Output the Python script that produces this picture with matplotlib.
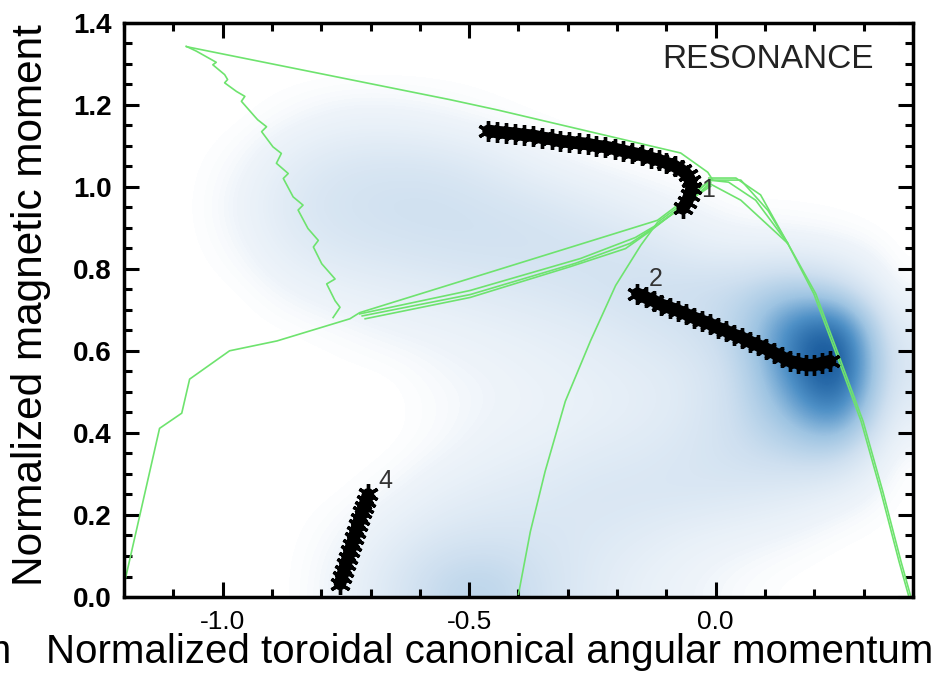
import numpy as np
import matplotlib
matplotlib.use("Agg")
import matplotlib.pyplot as plt
from matplotlib.colors import LinearSegmentedColormap

# particle density on a 0.1 x 0.1 grid (rows from top, mu = 1.35 ... 0.05)
dens_pz = np.arange(-1.15, 0.40, 0.1)
dens_mu = np.arange(1.35, 0.0, -0.1)
density = np.array([
    [0, 0, 0, 0, 0, 0, 0, 0, 0, 0, 0, 0, 0, 0, 0, 0],
    [0, 0, 0, 0, 0, 0, 0, 0, 0, 0, 0, 0, 0, 0, 0, 0],
    [0, 0, 0, .02, .05, .05, .03, .01, 0, 0, 0, 0, 0, 0, 0, 0],
    [0, 0, .02, .10, .15, .16, .15, .10, .04, .01, 0, 0, 0, 0, 0, 0],
    [0, 0, .04, .14, .18, .20, .20, .18, .15, .10, .05, .02, 0, 0, 0, 0],
    [0, 0, .02, .10, .14, .16, .18, .19, .19, .18, .15, .08, .05, .04, .02, 0],
    [0, 0, 0, .03, .06, .08, .10, .12, .14, .17, .20, .22, .24, .35, .25, 0],
    [0, 0, 0, 0, .01, .03, .04, .06, .08, .10, .14, .18, .28, .70, .90, .08],
    [0, 0, 0, 0, 0, 0, .02, .03, .05, .07, .09, .12, .22, .65, 1.0, .12],
    [0, 0, 0, 0, 0, 0, .01, .03, .04, .06, .08, .12, .22, .45, .75, .06],
    [0, 0, 0, 0, 0, 0, .02, .05, .07, .10, .12, .15, .20, .25, .28, 0],
    [0, 0, 0, 0, 0, .02, .07, .10, .12, .15, .15, .15, .13, .10, .05, 0],
    [0, 0, 0, 0, .02, .08, .14, .16, .15, .13, .10, .06, .04, .02, 0, 0],
    [0, 0, 0, 0, .04, .14, .26, .28, .18, .11, .06, .03, .01, 0, 0, 0],
])

# loss / trapped-passing boundaries
top_pz = [-1.073, -0.539, -0.443, -0.071, -0.016, -0.006]
top_mu = [1.341, 1.212, 1.187, 1.082, 1.035, 1.016]

jag_pz = [-1.074, -1.053, -1.013, -1.020, -0.996, -0.990, -0.996, -0.972, -0.955,
          -0.962, -0.935, -0.929, -0.911, -0.921, -0.898, -0.881, -0.891, -0.867,
          -0.877, -0.857, -0.837, -0.847, -0.827, -0.806, -0.816, -0.799, -0.772,
          -0.789, -0.772, -0.762, -0.776]
jag_mu = [1.342, 1.330, 1.303, 1.297, 1.273, 1.261, 1.253, 1.232, 1.220,
          1.208, 1.171, 1.163, 1.146, 1.134, 1.097, 1.081, 1.057, 1.032,
          1.020, 0.975, 0.955, 0.943, 0.898, 0.869, 0.853, 0.812, 0.775,
          0.763, 0.722, 0.706, 0.681]

low_pz = [-1.200, -1.128, -1.083, -1.067, -0.986, -0.890, -0.742, -0.722, -0.118, -0.010]
low_mu = [0.030, 0.411, 0.448, 0.531, 0.600, 0.624, 0.678, 0.693, 0.918, 1.016]

strand_b_pz = [-0.722, -0.498, -0.274, -0.163, -0.118, -0.061, -0.010]
strand_b_mu = [0.690, 0.747, 0.825, 0.876, 0.908, 0.955, 1.011]
strand_c_pz = [-0.717, -0.498, -0.285, -0.173, -0.128, -0.051, -0.010]
strand_c_mu = [0.685, 0.737, 0.813, 0.862, 0.898, 0.967, 1.006]
strand_d_pz = [-0.711, -0.498, -0.295, -0.183, -0.136, -0.047, -0.010]
strand_d_mu = [0.678, 0.730, 0.805, 0.849, 0.889, 0.972, 1.001]

mid_pz = [-0.400, -0.376, -0.346, -0.305, -0.254, -0.203, -0.152, -0.118, -0.071, -0.010]
mid_mu = [0.007, 0.159, 0.306, 0.477, 0.624, 0.759, 0.857, 0.913, 0.955, 1.016]

right_pz = [-0.010, 0.051, 0.106, 0.146, 0.199, 0.240, 0.295, 0.335, 0.372, 0.392]
right_mu = [1.016, 1.016, 0.942, 0.862, 0.739, 0.607, 0.428, 0.257, 0.086, 0.000]
right2_pz = [-0.014, 0.041, 0.091, 0.146, 0.203, 0.244, 0.299, 0.339, 0.376, 0.396]
right2_mu = [1.021, 1.021, 0.980, 0.862, 0.739, 0.607, 0.428, 0.257, 0.086, 0.000]
fan_pz = [-0.014, 0.026, 0.081, 0.146]
fan_mu = [1.016, 1.011, 0.967, 0.862]
fan2_pz = [-0.010, 0.051, 0.146]
fan2_mu = [1.006, 0.967, 0.862]

# resonant orbits
orb1_pz = [-0.461, -0.443, -0.425, -0.407, -0.388, -0.370, -0.352, -0.333, -0.315,
           -0.297, -0.278, -0.260, -0.242, -0.224, -0.205, -0.187, -0.169, -0.150,
           -0.132, -0.116, -0.100, -0.083, -0.069, -0.057, -0.051, -0.049, -0.053,
           -0.059, -0.067]
orb1_mu = [1.136, 1.133, 1.131, 1.129, 1.126, 1.124, 1.119, 1.116, 1.111,
           1.109, 1.106, 1.104, 1.099, 1.097, 1.092, 1.087, 1.082, 1.077,
           1.070, 1.065, 1.058, 1.050, 1.040, 1.028, 1.013, 0.996, 0.979,
           0.962, 0.947]

orb2_pz = [-0.159, -0.142, -0.126, -0.110, -0.093, -0.077, -0.061, -0.045, -0.028,
           -0.012, 0.004, 0.020, 0.037, 0.053, 0.069, 0.085, 0.102, 0.118,
           0.134, 0.150, 0.167, 0.183, 0.199, 0.215, 0.232]
orb2_mu = [0.739, 0.730, 0.722, 0.712, 0.705, 0.698, 0.690, 0.681, 0.673,
           0.666, 0.656, 0.649, 0.639, 0.632, 0.622, 0.614, 0.605, 0.595,
           0.585, 0.575, 0.570, 0.565, 0.565, 0.570, 0.575]

orb4_pz = [-0.762, -0.758, -0.754, -0.750, -0.746, -0.742, -0.738, -0.734, -0.730,
           -0.726, -0.722, -0.717, -0.713, -0.709, -0.705]
orb4_mu = [0.032, 0.049, 0.064, 0.081, 0.095, 0.113, 0.127, 0.144, 0.159,
           0.176, 0.191, 0.206, 0.220, 0.235, 0.250]

orbit_labels = ["1", "2", "4"]
label_pz = [-0.030, -0.135, -0.685]
label_mu = [0.992, 0.776, 0.282]

fig = plt.figure(figsize=(9.47, 6.82), dpi=100)
ax = fig.add_axes([0.131, 0.1246, 0.833, 0.8424])

cmap = LinearSegmentedColormap.from_list(
    "dens", [(0.0, "#ffffff"), (0.03, "#eef4fa"), (0.2, "#cfe0f0"), (0.4, "#9ec4e2"),
             (0.6, "#4d8fc6"), (0.8, "#1b5c9e"), (1.0, "#08306b")])
ax.imshow(density, extent=[-1.2, 0.4, 0.0, 1.4], origin="upper", aspect="auto",
          cmap=cmap, vmin=0, vmax=1, interpolation="bicubic", zorder=0)

green = "#6ee36e"
for xs, ys in [(top_pz, top_mu), (jag_pz, jag_mu), (low_pz, low_mu),
               (strand_b_pz, strand_b_mu), (strand_c_pz, strand_c_mu),
               (strand_d_pz, strand_d_mu), (mid_pz, mid_mu),
               (right_pz, right_mu), (right2_pz, right2_mu),
               (fan_pz, fan_mu), (fan2_pz, fan2_mu)]:
    ax.plot(xs, ys, color=green, lw=1.2, zorder=2)

for xs, ys in [(orb1_pz, orb1_mu), (orb2_pz, orb2_mu), (orb4_pz, orb4_mu)]:
    ax.plot(xs, ys, color="black", lw=9, solid_capstyle="round", zorder=3)
    ax.plot(xs, ys, ls="none", marker=(6, 2, 0), ms=15, mew=2.4, color="black", zorder=3)

for lab, x, y in zip(orbit_labels, label_pz, label_mu):
    ax.text(x, y, lab, fontsize=18, color="#333333", ha="left", va="center",
            family="Liberation Sans", zorder=4)

ax.text(0.321, 1.31, "RESONANCE", fontsize=24, color="#222222", ha="right", va="center",
        family="Liberation Sans")

ax.set_xlim(-1.2, 0.4)
ax.set_ylim(0.0, 1.4)
ax.set_xticks([-1.0, -0.5, 0.0])
ax.set_xticks(np.arange(-1.2, 0.41, 0.1), minor=True)
ax.set_yticks(np.arange(0.0, 1.41, 0.2))
ax.set_yticks(np.arange(0.0, 1.41, 0.05), minor=True)
ax.set_xticklabels(["-1.0", "-0.5", "0.0"], family="Liberation Sans", fontsize=19)
ax.set_yticklabels(["%.1f" % v for v in np.arange(0.0, 1.41, 0.2)],
                   family="Liberation Sans", fontsize=20, fontweight="bold")
ax.tick_params(which="both", direction="in", top=True, right=True, width=2.2, color="black")
ax.tick_params(which="major", length=11, pad=9)
ax.tick_params(which="minor", length=6)
for s in ax.spines.values():
    s.set_linewidth(2.5)

ax.set_ylabel("Normalized magnetic moment", fontsize=30.5, family="Liberation Sans")
ax.yaxis.set_label_coords(-0.0925, 0.508)
fig.text(0.517, 0.044, "Normalized toroidal canonical angular momentum", fontsize=29,
         family="Liberation Sans", ha="center", va="center")
fig.text(0.012, 0.044, "momentum", fontsize=29, family="Liberation Sans",
         ha="right", va="center")

fig.savefig("out.png", dpi=100)
